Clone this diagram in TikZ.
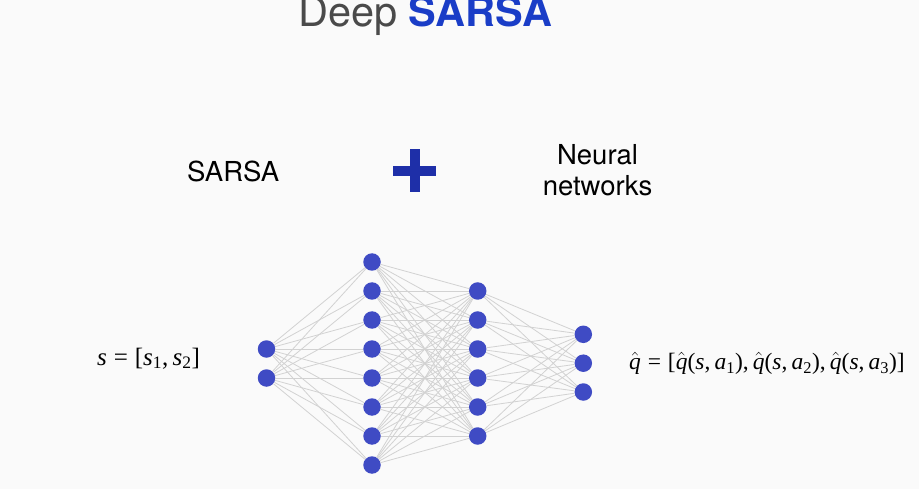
\documentclass[tikz,border=0pt]{standalone}
\usepackage{amsmath}
\usepackage{fontspec}
\setmainfont{TeX Gyre Heros}
\newfontfamily\tms{Liberation Serif}
\newcommand{\mi}[1]{\text{\tms\itshape #1}}
\newcommand{\mr}[1]{\text{\tms #1}}
\definecolor{bgc}{HTML}{FAFAFA}
\definecolor{nodec}{HTML}{3F4BC4}
\definecolor{plusc}{HTML}{1E2FA8}
\definecolor{titleblue}{HTML}{1A3DC7}
\definecolor{titlegray}{HTML}{4A4A4A}
\definecolor{edgec}{HTML}{D2D2D2}
\begin{document}
\begin{tikzpicture}[x=1pt,y=-1pt,
  neuron/.style={circle,fill=nodec,draw=none,minimum size=17.5pt,inner sep=0pt},
  conn/.style={draw=edgec,line width=0.8pt},
  lbl/.style={inner sep=0pt,font=\fontsize{27.5}{31}\selectfont},
  mlbl/.style={inner sep=0pt,font=\fontsize{25}{30}\selectfont}]
\fill[bgc] (0,0) rectangle (919,489);
\useasboundingbox (0,0) rectangle (919,489);
% title
\node[inner sep=0pt,anchor=base west,font=\fontsize{41.5}{48}\selectfont] (title) at (298,27)
  {\textcolor{titlegray}{Deep} \textcolor{titleblue}{\bfseries SARSA}};
% top labels
\node[lbl,anchor=base west] (sarsa) at (187,181.7) {SARSA};
\node[lbl,anchor=base] (nn1) at (597.5,165) {Neural};
\node[lbl,anchor=base] (nn2) at (597.5,196) {networks};
\fill[plusc] (393.3,165.7) rectangle (436,175.7);
\fill[plusc] (410,149) rectangle (420,191.7);
% neurons
\foreach \i/\y in {1/349,2/378} \node[neuron] (a\i) at (266.5,\y) {};
\foreach \i/\y in {1/262,2/291,3/320,4/349,5/378,6/407,7/436,8/465} \node[neuron] (b\i) at (372,\y) {};
\foreach \i/\y in {1/291,2/320,3/349,4/378,5/407,6/436} \node[neuron] (c\i) at (477.7,\y) {};
\foreach \i/\y in {1/334.3,2/363.2,3/392} \node[neuron] (d\i) at (583.3,\y) {};
% connections
\foreach \i in {1,2} \foreach \j in {1,...,8} \draw[conn] (a\i) -- (b\j);
\foreach \i in {1,...,8} \foreach \j in {1,...,6} \draw[conn] (b\i) -- (c\j);
\foreach \i in {1,...,6} \foreach \j in {1,2,3} \draw[conn] (c\i) -- (d\j);
% math labels
\node[mlbl,anchor=base west] (sin) at (97,365) {$\mi{s}\mathrel{\mr{=}}\mr{[}\mi{s}_{\mr{1}}\mr{,}\,\mi{s}_{\mr{2}}\mr{]}$};
\node[mlbl,anchor=base east,font=\fontsize{23.5}{28}\selectfont] (qout) at (905,370) {$\hat{\mi{q}}\mathrel{\mr{=}}\mr{[}\hat{\mi{q}}\mr{(}\mi{s}\mr{,}\,\mi{a}_{\mr{1}}\mr{),}\,\hat{\mi{q}}\mr{(}\mi{s}\mr{,}\,\mi{a}_{\mr{2}}\mr{),}\,\hat{\mi{q}}\mr{(}\mi{s}\mr{,}\,\mi{a}_{\mr{3}}\mr{)]}$};
\end{tikzpicture}
\end{document}
